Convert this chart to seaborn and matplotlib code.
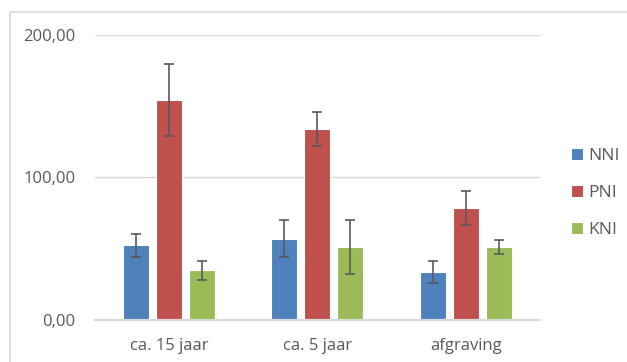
import pandas as pd
import numpy as np
import matplotlib
matplotlib.use("Agg")
import matplotlib.pyplot as plt
import seaborn as sns
from matplotlib.patches import Rectangle

# data
categories = ["ca. 15 jaar", "ca. 5 jaar", "afgraving"]
series = ["NNI", "PNI", "KNI"]
nni = [52.3, 56.7, 33.5]
pni = [154.3, 133.7, 78.5]
kni = [34.7, 50.9, 51.1]
nni_err = [8.0, 13.0, 7.7]
pni_err = [25.0, 12.0, 12.0]
kni_err = [6.5, 19.0, 5.0]
yticks = [0, 100, 200]
ytick_labels = ["0,00", "100,00", "200,00"]

colors = ["#4F81BD", "#C0504D", "#9BBB59"]
text_col = "#595959"

df = pd.DataFrame({
    "cat": categories * 3,
    "serie": [s for s in series for _ in categories],
    "val": nni + pni + kni,
    "err": nni_err + pni_err + kni_err,
})

sns.set_style("white")
plt.rcParams["font.family"] = ["Open Sans", "DejaVu Sans"]

fig = plt.figure(figsize=(6.27, 3.62), dpi=100)
ax = fig.add_axes([0.1515, 0.1169, 0.861 - 0.1515, 0.9033 - 0.1169])

sns.barplot(data=df, x="cat", y="val", hue="serie", palette=colors,
            saturation=1, width=0.6675, gap=0.21, errorbar=None, ax=ax,
            edgecolor="white", linewidth=0.8)

# error bars at the bar centres seaborn placed
for cont, s in zip(ax.containers, series):
    sub = df[df["serie"] == s]
    xs = [p.get_x() + p.get_width() / 2 for p in cont.patches]
    ax.errorbar(xs, sub["val"].values, yerr=sub["err"].values, fmt="none",
                ecolor="#595959", elinewidth=1.2, capsize=3.5, capthick=1.2,
                zorder=5)

ax.set_xlim(-0.5, 2.5)
ax.set_ylim(0, 200)
ax.set_yticks(yticks)
ax.set_yticklabels(ytick_labels)
ax.yaxis.grid(True, color="#D9D9D9", linewidth=1.0)
ax.set_axisbelow(True)
for sp in ["top", "right", "left"]:
    ax.spines[sp].set_visible(False)
ax.spines["bottom"].set_color("#D9D9D9")
ax.spines["bottom"].set_linewidth(1.6)
ax.tick_params(axis="both", length=0, labelsize=12, colors=text_col)
ax.tick_params(axis="x", pad=13)
ax.tick_params(axis="y", pad=14)
ax.set_xlabel("")
ax.set_ylabel("")

leg = ax.legend(loc="center left", bbox_to_anchor=(1.035, 0.445), frameon=False,
                fontsize=12.5, handlelength=0.7, handleheight=0.7,
                handletextpad=0.3, labelspacing=1.2)
for t in leg.get_texts():
    t.set_color(text_col)

# chart area border
fig.patches.append(Rectangle((10 / 627, -0.1), 1.2, 1 - 12 / 362 + 0.1,
                             transform=fig.transFigure, fill=False,
                             edgecolor="#D9D9D9", linewidth=1.2))

fig.savefig("out.png", dpi=100)
